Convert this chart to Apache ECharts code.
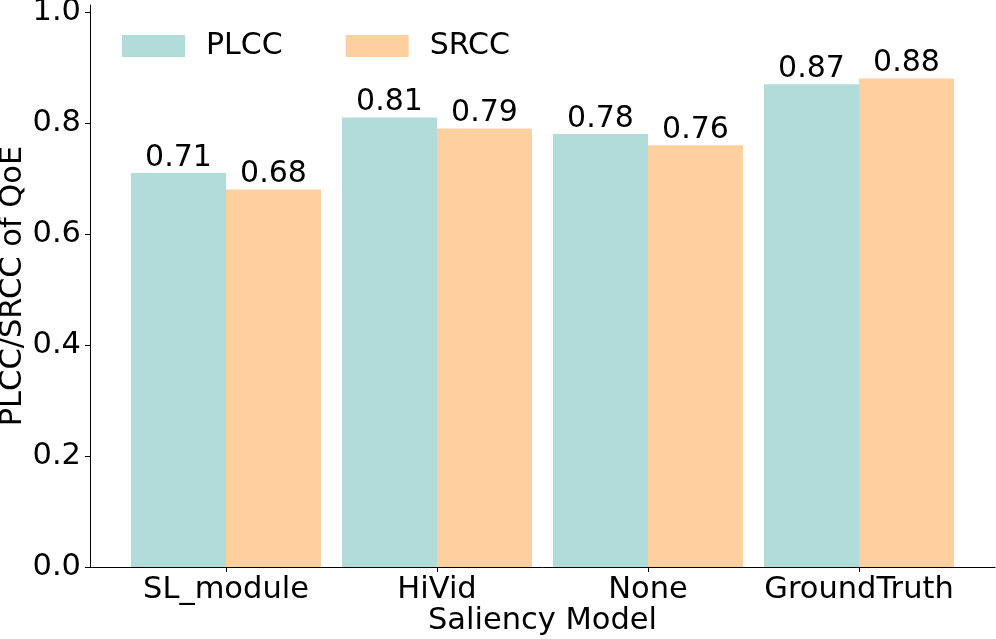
<!DOCTYPE html>
<html>
<head>
<meta charset="utf-8">
<script src="https://cdn.jsdelivr.net/npm/echarts@6/dist/echarts.min.js"></script>
<style>html,body{margin:0;padding:0;background:#fff;}#c{width:996px;height:639px;}</style>
</head>
<body>
<div id="c"></div>
<script>
const categories = ['SL_module', 'HiVid', 'None', 'GroundTruth'];
const plcc = [0.71, 0.81, 0.78, 0.87];
const srcc = [0.68, 0.79, 0.76, 0.88];
const yTicks = [0, 0.2, 0.4, 0.6, 0.8, 1.0];
const seriesNames = ['PLCC', 'SRCC'];

const FONT = 'DejaVu Sans';
const FS = 30;
const FS2 = 30.5;
const YMAX = 1.0126;
const chart = echarts.init(document.getElementById('c'), null, {renderer: 'canvas'});
const labelOpt = {
  show: true, position: 'top', distance: 0, color: '#000',
  fontFamily: FONT, fontSize: FS, lineHeight: 30,
  formatter: p => p.value.toFixed(2)
};
chart.setOption({
  animation: false,
  backgroundColor: '#fff',
  textStyle: {fontFamily: FONT},
  legend: {
    left: 117, top: 26, itemWidth: 63, itemHeight: 22, itemGap: 63,
    icon: 'rect',
    data: seriesNames,
    textStyle: {fontFamily: FONT, fontSize: FS, color: '#000', padding: [0, 0, 0, 16]}
  },
  grid: [
    {left: 120.5, right: 31.5, top: 5, bottom: 72, containLabel: false, outerBoundsMode: 'none'},
    {left: 90, right: 1, top: 5, bottom: 72, containLabel: false, outerBoundsMode: 'none'}
  ],
  xAxis: [
    {
      type: 'category', gridIndex: 0, data: categories,
      axisLine: {show: false},
      axisTick: {show: true, alignWithLabel: true, length: 5, lineStyle: {color: '#000', width: 1}},
      axisLabel: {fontFamily: FONT, fontSize: FS2, color: '#000', margin: 8, interval: 0}
    },
    {
      type: 'value', gridIndex: 1, min: 0, max: 1,
      axisLine: {show: true, lineStyle: {color: '#000', width: 1}},
      axisTick: {show: false}, axisLabel: {show: false}, splitLine: {show: false},
      name: 'Saliency Model', nameLocation: 'middle', nameGap: 39, nameMoveOverlap: false,
      nameTextStyle: {fontFamily: FONT, fontSize: FS2, color: '#000'}
    }
  ],
  yAxis: [
    {
      type: 'value', gridIndex: 0, min: 0, max: YMAX, show: false, splitLine: {show: false}
    },
    {
      type: 'value', gridIndex: 1, min: 0, max: YMAX,
      axisLine: {show: true, lineStyle: {color: '#000', width: 1}},
      axisTick: {show: true, length: 5, customValues: yTicks, lineStyle: {color: '#000', width: 1}},
      axisLabel: {fontFamily: FONT, fontSize: FS2, color: '#000', margin: 9, customValues: yTicks,
        formatter: v => v.toFixed(1)},
      splitLine: {show: false},
      name: 'PLCC/SRCC of QoE', nameLocation: 'middle', nameGap: 61, nameMoveOverlap: false,
      nameTextStyle: {fontFamily: FONT, fontSize: FS2, color: '#000'}
    }
  ],
  series: [
    {name: seriesNames[0], type: 'bar', xAxisIndex: 0, yAxisIndex: 0, data: plcc,
     barWidth: 95, barGap: '0%', itemStyle: {color: '#b1dcd9'}, label: labelOpt},
    {name: seriesNames[1], type: 'bar', xAxisIndex: 0, yAxisIndex: 0, data: srcc,
     barWidth: 95, barGap: '0%', itemStyle: {color: '#fed09f'}, label: labelOpt}
  ]
});
</script>
</body>
</html>
